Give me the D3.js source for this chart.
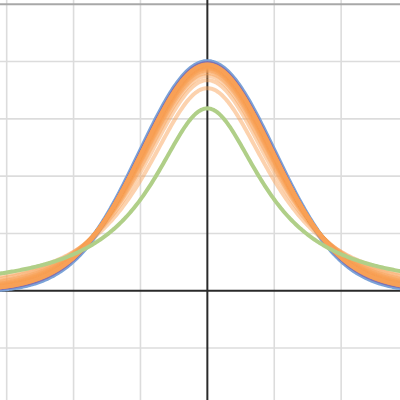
<!DOCTYPE html>
<html>
<head>
<meta charset="utf-8">
<script src="https://cdn.jsdelivr.net/npm/d3@7"></script>
<style>
  html, body { margin: 0; padding: 0; background: #fff; }
  svg { display: block; }
</style>
</head>
<body>
<svg></svg>
<script>
const width = 400;
const height = 400;

// grid positions (units)
const xTicks = [-3, -2, -1, 0, 1, 2];
const yTicks = [-0.1, 0, 0.1, 0.2, 0.3, 0.4, 0.5];
const yMajor = [0.5];

// degrees of freedom for the t curves
const orangeDfs = d3.range(2, 26);
const purpleDf = 60;
const greenDf = 1;

const x = d3.scaleLinear().domain([-3.1, 2.88]).range([0, width]);
const y = d3.scaleLinear().domain([0.5074, -0.1907]).range([0, height]);

function logGamma(z) {
    const g = 7;
    const c = [0.99999999999980993, 676.5203681218851, -1259.1392167224028,
        771.32342877765313, -176.61502916214059, 12.507343278686905,
        -0.13857109526572012, 9.9843695780195716e-6, 1.5056327351493116e-7];
    if (z < 0.5) return Math.log(Math.PI / Math.sin(Math.PI * z)) - logGamma(1 - z);
    z -= 1;
    let a = c[0];
    const t = z + g + 0.5;
    for (let i = 1; i < g + 2; i++) a += c[i] / (z + i);
    return 0.5 * Math.log(2 * Math.PI) + (z + 0.5) * Math.log(t) - t + Math.log(a);
}

function tPdf(v) {
    const k = Math.exp(logGamma((v + 1) / 2) - logGamma(v / 2)) / Math.sqrt(v * Math.PI);
    return t => k * Math.pow(1 + t * t / v, -(v + 1) / 2);
}
const normPdf = t => Math.exp(-t * t / 2) / Math.sqrt(2 * Math.PI);

const xs = d3.range(-3.3, 3.1, 0.02);

const svg = d3.select("svg")
    .attr("width", width)
    .attr("height", height);

// grid
svg.append("g")
    .selectAll("line")
    .data(xTicks.filter(d => d !== 0))
    .join("line")
    .attr("x1", d => x(d)).attr("x2", d => x(d))
    .attr("y1", 0).attr("y2", height)
    .attr("stroke", "#dcdcdc")
    .attr("stroke-width", 1.6);

svg.append("g")
    .selectAll("line")
    .data(yTicks.filter(d => d !== 0))
    .join("line")
    .attr("x1", 0).attr("x2", width)
    .attr("y1", d => y(d)).attr("y2", d => y(d))
    .attr("stroke", d => yMajor.includes(d) ? "#a8a8a8" : "#dcdcdc")
    .attr("stroke-width", d => yMajor.includes(d) ? 2 : 1.6);

// axes
svg.append("line")
    .attr("x1", 0).attr("x2", width)
    .attr("y1", y(0)).attr("y2", y(0))
    .attr("stroke", "#2a2a2a").attr("stroke-width", 2);
svg.append("line")
    .attr("x1", x(0)).attr("x2", x(0))
    .attr("y1", 0).attr("y2", height)
    .attr("stroke", "#2a2a2a").attr("stroke-width", 2);

const line = d3.line()
    .x(d => x(d[0]))
    .y(d => y(d[1]));

const curves = svg.append("g")
    .attr("fill", "none")
    .attr("stroke-linecap", "round")
    .attr("stroke-linejoin", "round");

// normal
curves.append("path")
    .datum(xs.map(t => [t, normPdf(t)]))
    .attr("d", line)
    .attr("stroke", "#7ba3d8")
    .attr("stroke-width", 6);

// large df
const fp = tPdf(purpleDf);
curves.append("path")
    .datum(xs.map(t => [t, fp(t)]))
    .attr("d", line)
    .attr("stroke", "#8060a8")
    .attr("stroke-opacity", 0.75)
    .attr("stroke-width", 4);

// t curves
curves.append("g")
    .selectAll("path")
    .data(orangeDfs)
    .join("path")
    .attr("d", v => { const f = tPdf(v); return line(xs.map(t => [t, f(t)])); })
    .attr("stroke", "#f8a055")
    .attr("stroke-opacity", 0.48)
    .attr("stroke-width", 4);

// Cauchy
const fg = tPdf(greenDf);
curves.append("path")
    .datum(xs.map(t => [t, fg(t)]))
    .attr("d", line)
    .attr("stroke", "#b0cf88")
    .attr("stroke-width", 4);
</script>
</body>
</html>
